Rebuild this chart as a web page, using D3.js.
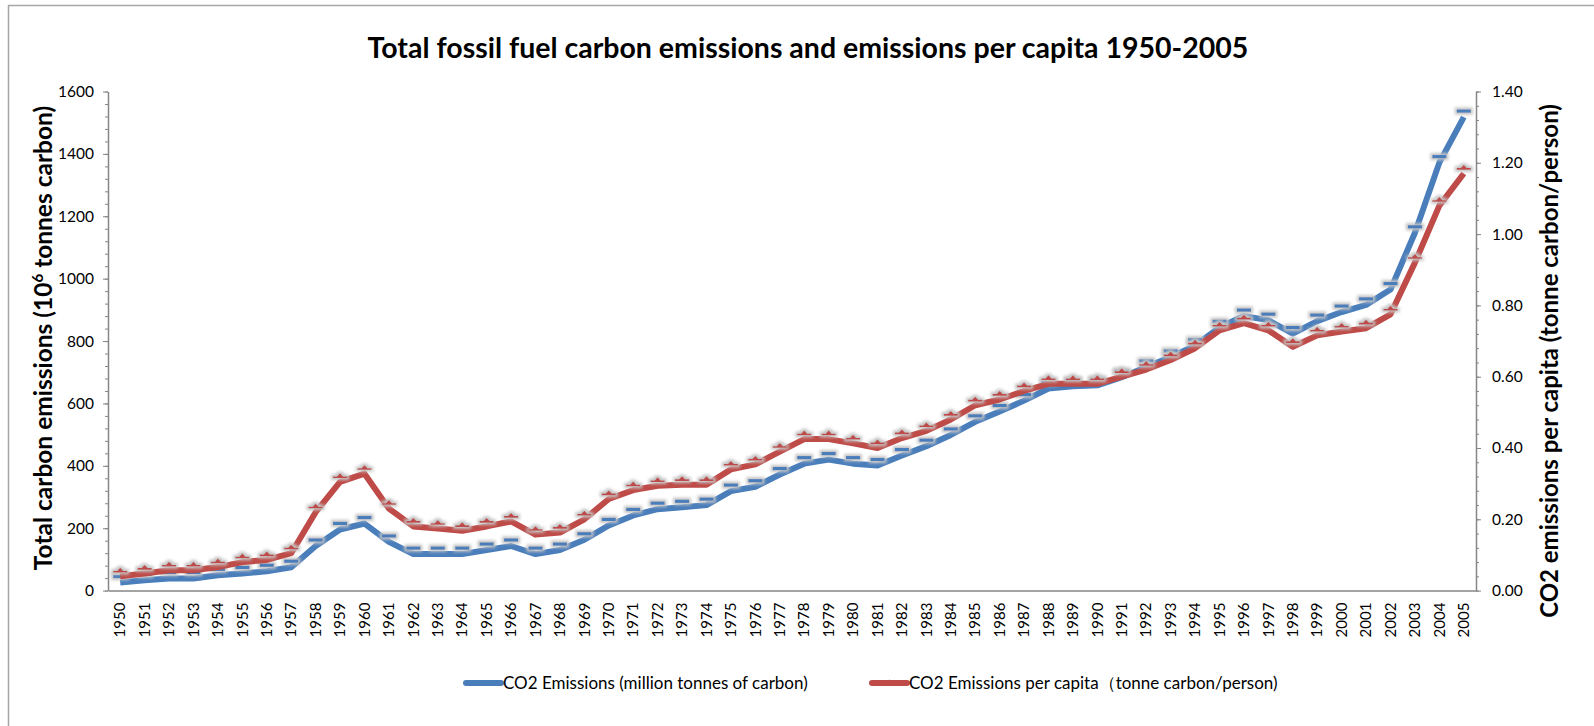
<!DOCTYPE html>
<html>
<head>
<meta charset="utf-8">
<script src="https://cdn.jsdelivr.net/npm/d3@7"></script>
<style>
  html, body { margin: 0; padding: 0; background: #fff; }
  svg { display: block; font-family: Lato, "Open Sans", sans-serif; }
</style>
</head>
<body>
<div id="chart"></div>
<script>
// Years on the category axis
const years = d3.range(1950, 2006).map(String);

// CO2 emissions, million tonnes of carbon (left axis)
const emissions = [
  26, 33, 39, 39, 49, 55, 62, 75, 143, 196,
  215, 156, 117, 117, 117, 130, 143, 117, 130, 163,
  209, 241, 261, 267, 274, 319, 333, 372, 407, 420,
  407, 401, 433, 463, 499, 541, 574, 609, 648, 655,
  658, 684, 717, 749, 785, 844, 880, 867, 824, 864,
  893, 916, 965, 1147, 1372, 1518
];

// CO2 emissions per capita, tonne carbon / person (right axis)
const perCapita = [
  0.040, 0.048, 0.057, 0.057, 0.066, 0.080, 0.086, 0.105, 0.220, 0.305,
  0.328, 0.230, 0.180, 0.174, 0.168, 0.180, 0.194, 0.157, 0.163, 0.200,
  0.257, 0.282, 0.294, 0.297, 0.297, 0.340, 0.354, 0.390, 0.425, 0.425,
  0.413, 0.400, 0.428, 0.448, 0.480, 0.520, 0.536, 0.560, 0.580, 0.580,
  0.580, 0.600, 0.620, 0.647, 0.680, 0.730, 0.750, 0.730, 0.684, 0.716,
  0.727, 0.736, 0.775, 0.920, 1.080, 1.170
];

// Axis ticks
const leftTicks = [0, 200, 400, 600, 800, 1000, 1200, 1400, 1600];
const rightTicks = [0, 0.2, 0.4, 0.6, 0.8, 1.0, 1.2, 1.4];

const seriesNames = [
  "CO2 Emissions (million tonnes of carbon)",
  "CO2 Emissions per capita\uFF08tonne carbon/person)"
];

const width = 1594, height = 726;
const margin = { top: 91.5, right: 118, bottom: 135.4, left: 108 };
const blue = "#4a7ebb", red = "#be4b48", axisColor = "#868686";

const svg = d3.select("#chart").append("svg")
    .attr("width", width)
    .attr("height", height);

// Marker glow
const defs = svg.append("defs");
const glow = defs.append("filter").attr("id", "glow")
    .attr("x", "-60%").attr("y", "-200%").attr("width", "220%").attr("height", "500%");
glow.append("feMorphology").attr("in", "SourceAlpha").attr("operator", "dilate").attr("radius", 1.5).attr("result", "d");
glow.append("feGaussianBlur").attr("in", "d").attr("stdDeviation", 1.4).attr("result", "b");
glow.append("feFlood").attr("flood-color", "#c4c4c4");
glow.append("feComposite").attr("in2", "b").attr("operator", "in").attr("result", "g");
const merge = glow.append("feMerge");
merge.append("feMergeNode").attr("in", "g");
merge.append("feMergeNode").attr("in", "SourceGraphic");

// Outer frame
svg.append("rect")
    .attr("x", 8.5).attr("y", 5.5)
    .attr("width", width + 20).attr("height", height + 20)
    .attr("fill", "none")
    .attr("stroke", "#a6a6a6")
    .attr("stroke-width", 1.5);

// Title
svg.append("text")
    .attr("x", 808)
    .attr("y", 58)
    .attr("text-anchor", "middle")
    .style("font-size", "28.5px")
    .style("font-weight", "bold")
    .text("Total fossil fuel carbon emissions and emissions per capita 1950-2005");

const x = d3.scaleBand()
    .domain(years)
    .range([margin.left, width - margin.right]);

const yLeft = d3.scaleLinear()
    .domain([0, 1600])
    .range([height - margin.bottom, margin.top]);

const yRight = d3.scaleLinear()
    .domain([0, 1.4])
    .range([height - margin.bottom, margin.top]);

// Left axis with minor ticks
svg.append("g")
    .attr("transform", `translate(${margin.left},0)`)
    .call(d3.axisLeft(yLeft).tickValues(d3.range(0, 1601, 40)).tickSize(3).tickFormat(""))
    .call(g => g.select(".domain").remove())
    .call(g => g.selectAll("line").attr("stroke", axisColor));

const leftAxis = svg.append("g")
    .attr("transform", `translate(${margin.left},0)`)
    .call(d3.axisLeft(yLeft).tickValues(leftTicks).tickSize(5).tickSizeOuter(0).tickPadding(9).tickFormat(d3.format("d")));
leftAxis.select(".domain").attr("stroke", axisColor).attr("stroke-width", 1.5);
leftAxis.selectAll("line").attr("stroke", axisColor);
leftAxis.selectAll("text").style("font-size", "15.5px").style("font-family", "Lato").attr("fill", "#000");

// Right axis with minor ticks
svg.append("g")
    .attr("transform", `translate(${width - margin.right},0)`)
    .call(d3.axisRight(yRight).tickValues(d3.range(0, 36).map(i => i * 0.04)).tickSize(3).tickFormat(""))
    .call(g => g.select(".domain").remove())
    .call(g => g.selectAll("line").attr("stroke", axisColor));

const rightAxis = svg.append("g")
    .attr("transform", `translate(${width - margin.right},0)`)
    .call(d3.axisRight(yRight).tickValues(rightTicks).tickSize(5).tickSizeOuter(0).tickPadding(11).tickFormat(d3.format(".2f")));
rightAxis.select(".domain").attr("stroke", axisColor).attr("stroke-width", 1.5);
rightAxis.selectAll("line").attr("stroke", axisColor);
rightAxis.selectAll("text").style("font-size", "15.5px").style("font-family", "Lato").attr("fill", "#000");

// Category axis
const xAxis = svg.append("g")
    .attr("transform", `translate(0,${height - margin.bottom})`)
    .call(d3.axisBottom(x).tickSize(0).tickSizeOuter(0));
xAxis.select(".domain").attr("stroke", axisColor).attr("stroke-width", 1.5);
xAxis.selectAll("text")
    .attr("transform", "rotate(-90)")
    .attr("x", -12)
    .attr("y", 0)
    .attr("dy", "0.35em")
    .attr("text-anchor", "end")
    .style("font-size", "15px")
    .style("font-family", "Lato")
    .attr("fill", "#000");

// Axis titles
const leftTitle = svg.append("text")
    .attr("transform", `translate(52,338) rotate(-90)`)
    .attr("text-anchor", "middle")
    .style("font-size", "24.5px")
    .style("font-weight", "bold");
leftTitle.append("tspan").text("Total carbon emissions (10");
leftTitle.append("tspan").attr("dy", -9).style("font-size", "15px").text("6");
leftTitle.append("tspan").attr("dy", 9).text(" tonnes carbon)");

svg.append("text")
    .attr("transform", `translate(1558,361) rotate(-90)`)
    .attr("text-anchor", "middle")
    .style("font-size", "24px")
    .style("font-weight", "bold")
    .text("CO2 emissions per capita (tonne carbon/person)");

const cx = d => x(d) + x.bandwidth() / 2;

// Lines
const blueLine = d3.line().x((d, i) => cx(years[i])).y(d => yLeft(d));
const redLine = d3.line().x((d, i) => cx(years[i])).y(d => yRight(d));

function dashMarker(sel, color) {
    sel.append("rect")
        .attr("x", -7).attr("y", -1.6).attr("width", 14).attr("height", 3.2)
        .attr("fill", color);
}

function triMarker(sel, color) {
    sel.append("path")
        .attr("d", "M-7,1.2 L7,1.2 L7,-0.4 L3,-0.4 L0,-3.5 L-3,-0.4 L-7,-0.4 Z")
        .attr("fill", color);
}

svg.append("path")
    .datum(emissions)
    .attr("fill", "none")
    .attr("stroke", blue)
    .attr("stroke-width", 6)
    .attr("stroke-linejoin", "round")
    .attr("d", blueLine);

svg.append("g")
    .selectAll("g")
    .data(emissions)
    .enter()
    .append("g")
    .attr("filter", "url(#glow)")
    .attr("transform", (d, i) => `translate(${cx(years[i])},${yLeft(d) - 6})`)
    .each(function() { dashMarker(d3.select(this), blue); });

svg.append("path")
    .datum(perCapita)
    .attr("fill", "none")
    .attr("stroke", red)
    .attr("stroke-width", 6)
    .attr("stroke-linejoin", "round")
    .attr("d", redLine);

svg.append("g")
    .selectAll("g")
    .data(perCapita)
    .enter()
    .append("g")
    .attr("filter", "url(#glow)")
    .attr("transform", (d, i) => `translate(${cx(years[i])},${yRight(d) - 5})`)
    .each(function() { triMarker(d3.select(this), red); });

// Legend
const legend = svg.append("g").attr("transform", "translate(0,683)");
const legendItems = [
    { name: seriesNames[0], color: blue, x: 466, marker: dashMarker },
    { name: seriesNames[1], color: red, x: 872, marker: triMarker }
];
legendItems.forEach(item => {
    legend.append("line")
        .attr("x1", item.x).attr("x2", item.x + 35)
        .attr("stroke", item.color)
        .attr("stroke-width", 6)
        .attr("stroke-linecap", "round");
    const m = legend.append("g").attr("transform", `translate(${item.x + 17.5},0)`);
    item.marker(m, item.color);
    legend.append("text")
        .attr("x", item.x + 37)
        .attr("y", 0)
        .attr("dy", "0.35em")
        .style("font-size", "17px")
        .text(item.name);
});
</script>
</body>
</html>
